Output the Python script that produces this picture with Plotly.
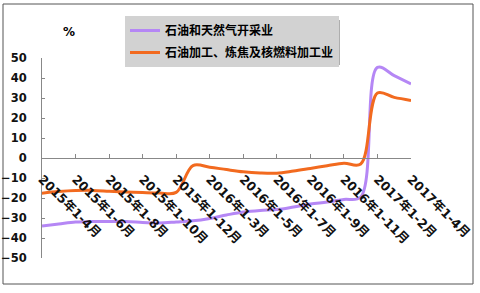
import plotly.graph_objects as go

categories = ["2015年1-4月", "2015年1-5月", "2015年1-6月", "2015年1-7月", "2015年1-8月",
              "2015年1-9月", "2015年1-10月", "2015年1-11月", "2015年1-12月",
              "2016年1-2月", "2016年1-3月", "2016年1-4月", "2016年1-5月", "2016年1-6月",
              "2016年1-7月", "2016年1-8月", "2016年1-9月", "2016年1-10月", "2016年1-11月",
              "2016年1-12月", "2017年1-2月", "2017年1-3月", "2017年1-4月"]
tick_idx = [0, 2, 4, 6, 8, 10, 12, 14, 16, 18, 20, 22]
tick_labels = [categories[i] for i in tick_idx]

oil_gas = [-34.0, -33.0, -32.0, -31.8, -31.8, -31.8, -32.2, -32.5, -32.0, -31.4, -30.2,
           -28.5, -27.0, -26.2, -25.8, -24.5, -23.0, -22.0, -20.7, -19.5, 45.3, 41.2, 37.0]
refining = [-17.6, -16.8, -16.3, -16.2, -16.6, -17.0, -17.3, -17.5, -17.2, -3.8, -4.6,
            -5.8, -6.9, -7.5, -7.6, -6.5, -5.2, -3.9, -2.6, -3.0, 32.5, 30.3, 28.8]

names = ["石油和天然气开采业", "石油加工、炼焦及核燃料加工业"]
colors = ["#B587F5", "#F26A1F"]

FONT = "DejaVu Sans, Noto Sans CJK SC, sans-serif"

x = list(range(len(categories)))
fig = go.Figure()
for i, (nm, ys, c) in enumerate(zip(names, [oil_gas, refining], colors)):
    fig.add_trace(go.Scatter(x=x, y=ys, name=nm, mode="lines", legendgroup=str(i),
                             line=dict(color=c, width=3, shape="spline", smoothing=1)))

L, R, T, B = 42, 69, 58, 35
W, H = 480, 293
pw, ph = W - L - R, H - T - B
def px(v):
    return (v - L) / pw
def py(v):
    return (H - B - v) / ph

fig.update_layout(
    width=W, height=H,
    margin=dict(l=L, r=R, t=T, b=B, autoexpand=False),
    paper_bgcolor="white", plot_bgcolor="white",
    font=dict(family=FONT, color="#111111"),
    showlegend=True,
    legend=dict(x=px(125), y=py(16), xanchor="left", yanchor="top",
                bgcolor="#D2D2D2", borderwidth=0, tracegroupgap=3,
                font=dict(size=12, weight="bold", color="#000000", family=FONT)),
    xaxis=dict(range=[0, 22], tickvals=tick_idx, ticktext=tick_labels, tickangle=45,
               anchor="free", position=0.5, showline=True, linecolor="#888888", linewidth=1,
               ticks="inside", ticklen=4, tickcolor="#888888", showgrid=False, zeroline=False,
               automargin=False, ticklabelstandoff=8,
               tickfont=dict(size=12.5, weight="bold", color="#111111", family=FONT)),
    yaxis=dict(range=[-50, 50], dtick=10, showline=True, linecolor="#888888", linewidth=1,
               ticks="inside", ticklen=3, tickcolor="#888888", showgrid=False, zeroline=False,
               automargin=False, ticklabelstandoff=12,
               tickfont=dict(size=11.5, weight="bold", color="#111111", family=FONT)),
    shapes=[
        dict(type="rect", xref="paper", yref="paper", x0=px(3), x1=px(473), y0=py(284), y1=py(4),
             line=dict(color="#555555", width=1), fillcolor="rgba(0,0,0,0)", layer="below"),
        dict(type="rect", xref="paper", yref="paper", x0=px(129), x1=px(340), y0=py(65), y1=py(20),
             line=dict(width=0), fillcolor="rgba(120,120,120,0.6)", layer="above"),
    ],
    annotations=[
        dict(text="%", x=px(61), y=py(23), xref="paper", yref="paper", showarrow=False,
             font=dict(size=12, weight="bold", color="#000000", family=FONT)),
    ],
)

fig.write_html("out.html")
